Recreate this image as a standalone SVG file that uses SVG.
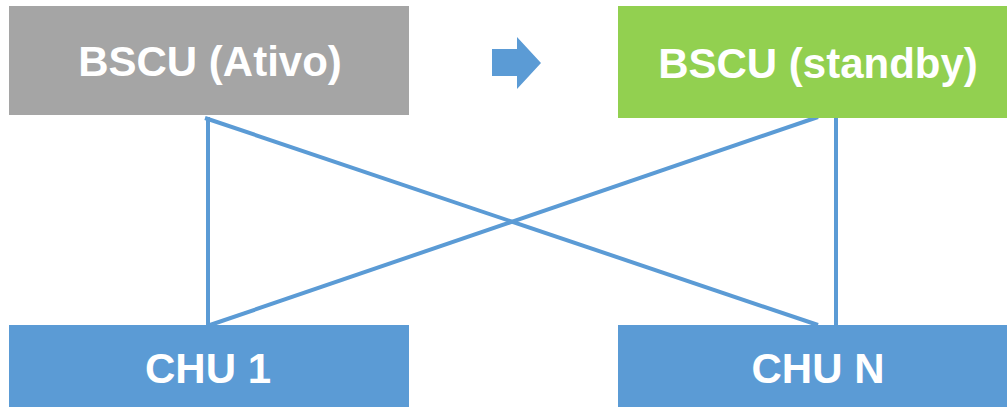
<svg xmlns="http://www.w3.org/2000/svg" width="1007" height="407" viewBox="0 0 1007 407">
<style>
.lbl{font-family:"Liberation Sans",Arial,sans-serif;font-weight:bold;fill:#fff;text-anchor:middle}
.big{font-size:42px}
.conn{stroke:#5B9BD5;stroke-width:4;fill:none}
</style>
<rect width="1007" height="407" fill="#fff"/>
<g id="connectors">
<line class="conn" x1="208" y1="117" x2="208" y2="325"/>
<line class="conn" x1="205" y1="118" x2="818" y2="325"/>
<line class="conn" x1="818" y1="117" x2="210" y2="325"/>
<line class="conn" x1="836" y1="117" x2="836" y2="325"/>
</g>
<g id="bscu-ativo">
<rect x="9" y="6" width="400" height="109" fill="#A5A5A5"/>
<text class="lbl big" x="210" y="76">BSCU (Ativo)</text>
</g>
<g id="arrow">
<polygon points="492,49 517,49 517,37 541,63 517,89 517,76 492,76" fill="#5B9BD5"/>
</g>
<g id="bscu-standby">
<rect x="618" y="6" width="400" height="112" fill="#92D050"/>
<text class="lbl big" x="818" y="78">BSCU (standby)</text>
</g>
<g id="chu1">
<rect x="9" y="325" width="400" height="82" fill="#5B9BD5"/>
<text class="lbl big" x="208" y="383">CHU 1</text>
</g>
<g id="chun">
<rect x="618" y="325" width="400" height="82" fill="#5B9BD5"/>
<text class="lbl big" x="818" y="383">CHU N</text>
</g>
</svg>
